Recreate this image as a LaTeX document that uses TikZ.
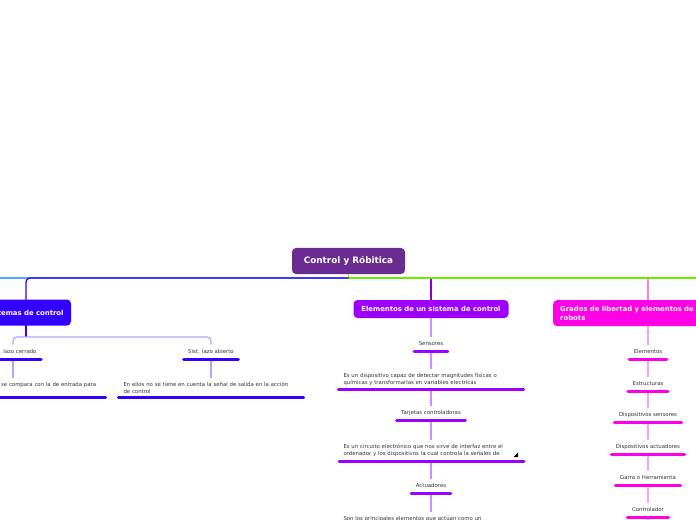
\documentclass[tikz,border=0pt]{standalone}
\usepackage{fontspec}
\setmainfont{DejaVu Sans}
\definecolor{rootc}{HTML}{6A2C91}
\definecolor{bluec}{HTML}{3300FF}
\definecolor{bluel}{HTML}{AFA6FF}
\definecolor{lblue}{HTML}{4FA8FF}
\definecolor{purpc}{HTML}{9E00FF}
\definecolor{purpd}{HTML}{8A00D0}
\definecolor{purpl}{HTML}{CF8CFF}
\definecolor{magc}{HTML}{FF00E6}
\definecolor{magl}{HTML}{FF9CF4}
\definecolor{magm}{HTML}{FF7AEE}
\definecolor{greenc}{HTML}{6CEB00}
\definecolor{txt}{HTML}{333333}
\begin{document}
\begin{tikzpicture}[x=1bp,y=-1bp,
  rootbox/.style={fill=rootc, rounded corners=4bp, text=white, font=\fontsize{8.9}{10}\selectfont\bfseries, minimum width=113bp, minimum height=26bp, inner sep=0pt},
  mainbox/.style={fill=#1, rounded corners=4bp, text=white, font=\fontsize{6.9}{8.6}\selectfont\bfseries, inner sep=0pt},
  item/.style={font=\fontsize{5.4}{7}\selectfont, text=txt, inner xsep=4.5bp, inner ysep=4.5bp, text height=4bp, text depth=1bp, anchor=south},
  desc/.style={font=\fontsize{5.4}{7.2}\selectfont, text=txt, text width=175bp, align=left, inner xsep=5bp, inner ysep=3.5bp},
  ul/.style={draw=#1, line width=3bp, line cap=round},
  link/.style={draw=#1, line width=1.3bp},
]
\useasboundingbox (0,0) rectangle (696,520);
\clip (0,0) rectangle (696,520);

% root and main branches
\node[rootbox] (root) at (348.5,261) {Control y Róbitica};
\coordinate (hub) at (348.5,278);
\coordinate (offl) at (0,278);
\coordinate (offr) at (696,278);

\node[mainbox=bluec, minimum width=92bp, minimum height=26bp] (sis) at (25,312.5) {Sistemas de control};
\coordinate (sisn) at (26,300);
\coordinate (siss) at (26,325);
\node[mainbox=purpc, minimum width=155bp, minimum height=18bp] (elem) at (431,309) {Elementos de un sistema de control};
\node[mainbox=magc, anchor=north west, text width=146bp, align=left, inner xsep=7bp, inner ysep=5bp, minimum height=26bp] (grad) at (553,300) {Grados de libertad y elementos de\\robots};

\draw[link=lblue] (hub) -- (offl);
\draw[link=purpd] (elem.north) -- (elem.north |- hub);
\draw[link=magm] (grad.north -| 648,0) -- (hub -| 648,0);
\draw[link=greenc] (root.south) -- (hub) -- (offr);
\draw[link=bluec, rounded corners=4bp] (hub) -| (sisn);

% Sistemas de control group
\coordinate (sisj) at (26,337);
\node[item] (lc) at (13,359) {Sist. lazo cerrado};
\node[item] (la) at (211,359) {Sist. lazo abierto};
\node[desc, anchor=south, text width=171bp] (ld) at (15,397) {En ellos la señal de salida se compara con la de entrada para\\de control};
\node[desc, anchor=south] (rd) at (211,397) {En ellos no se tiene en cuenta la señal de salida en la acción\\de control};
\draw[link=bluec] (siss) -- (sisj);
\draw[link=bluel, rounded corners=4bp] (sisj) -| (lc.north);
\draw[link=bluel, rounded corners=4bp] (sisj) -| (la.north);
\draw[link=bluel] (lc.south) -- (lc.south |- ld.north);
\draw[link=bluel] (la.south) -- (rd.north);
\foreach \n in {lc,la,ld,rd} \draw[ul=bluec] (\n.south west) -- (\n.south east);

% Elementos de un sistema de control group
\node[item] (sen) at (431,351) {Sensores};
\node[desc, anchor=south] (d1) at (431,389) {Es un dispositivo capaz de detectar magnitudes físicas o\\químicas y transformarlas en variables electricas};
\node[item] (tar) at (431,420) {Tarjetas controladoras};
\begin{scope}
  \clip (330,430) rectangle (530,457.5);
  \node[desc, anchor=north] (d2) at (431,440) {Es un circuito electrónico que nos sirve de interfaz entre el\\ordenador y los dispositivos la cual controla la señales de\\entrada y salida};
\end{scope}
\coordinate (d2w) at (339,461);
\coordinate (d2e) at (524,461);
\coordinate (d2u) at (431,461);
\node[item] (act) at (431,493) {Actuadores};
\node[desc, anchor=north] (d3) at (431,512) {Son los principales elementos que actúan como un};
\draw[link=purpl] (elem.south) -- (sen.north);
\draw[link=purpl] (sen.south) -- (d1.north);
\draw[link=purpl] (d1.south) -- (tar.north);
\draw[link=purpl] (tar.south) -- (d2.north);
\draw[link=purpl] (d2u) -- (act.north);
\draw[link=purpl] (act.south) -- (d3.north);
\foreach \n in {sen,d1,tar,act} \draw[ul=purpc] (\n.south west) -- (\n.south east);
\draw[ul=purpc] (d2w) -- (d2e);
\fill[black] (513.5,457) -- (518,457) -- (518,452.5) -- cycle;

% Grados de libertad group
\node[item] (e1) at (648,359) {Elementos};
\node[item] (e2) at (648,391) {Estructuras};
\node[item] (e3) at (648,422) {Dispositivos sensores};
\node[item] (e4) at (648,454) {Dispositivos actuadores};
\node[item] (e5) at (648,485) {Garra o Herramienta};
\node[item] (e6) at (648,517) {Controlador};
\coordinate (e7) at (648,530);
\draw[link=magl] (grad.south -| e1) -- (e1.north);
\draw[link=magl] (e1.south) -- (e2.north);
\draw[link=magl] (e2.south) -- (e3.north);
\draw[link=magl] (e3.south) -- (e4.north);
\draw[link=magl] (e4.south) -- (e5.north);
\draw[link=magl] (e5.south) -- (e6.north);
\draw[link=magl] (e6.south) -- (e7);
\foreach \n in {e1,e2,e3,e4,e5,e6} \draw[ul=magc] (\n.south west) -- (\n.south east);
\end{tikzpicture}
\end{document}
